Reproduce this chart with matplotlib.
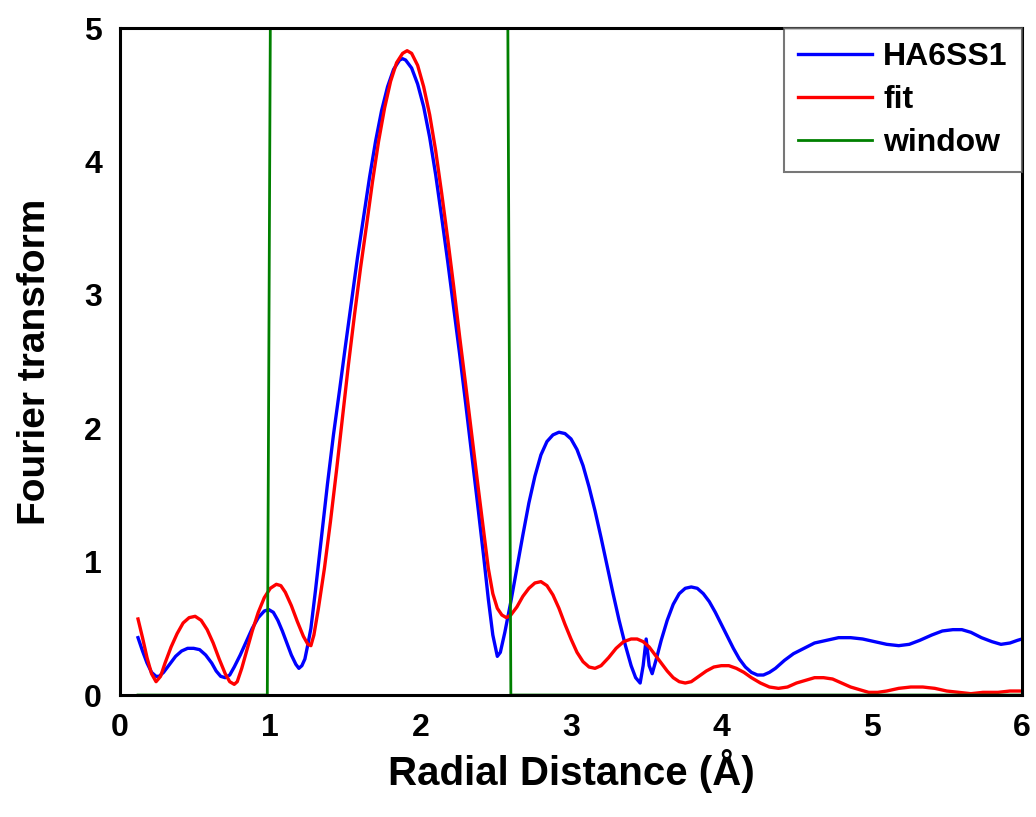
import matplotlib
matplotlib.use("Agg")
import matplotlib.pyplot as plt

# data (HA6SS1 data curve)
r_data = [0.12, 0.15, 0.18, 0.21, 0.24, 0.26, 0.29, 0.33, 0.37, 0.41, 0.45, 0.49, 0.53,
          0.57, 0.61, 0.64, 0.67, 0.70, 0.73, 0.76, 0.80, 0.84, 0.88, 0.92, 0.96, 0.99,
          1.02, 1.05, 1.08, 1.11, 1.14, 1.17, 1.19, 1.21, 1.23, 1.25, 1.27, 1.30, 1.34,
          1.38, 1.42, 1.46, 1.50, 1.54, 1.58, 1.62, 1.66, 1.70, 1.74, 1.78, 1.82, 1.86,
          1.88, 1.90, 1.94, 1.98, 2.02, 2.06, 2.10, 2.14, 2.18, 2.22, 2.26, 2.30, 2.34,
          2.38, 2.42, 2.45, 2.48, 2.51, 2.53, 2.56, 2.60, 2.64, 2.68, 2.72, 2.76, 2.80,
          2.84, 2.88, 2.92, 2.96, 3.00, 3.04, 3.08, 3.12, 3.16, 3.20, 3.24, 3.28, 3.32,
          3.36, 3.40, 3.43, 3.46, 3.48, 3.50, 3.52, 3.54, 3.57, 3.60, 3.64, 3.68, 3.72,
          3.76, 3.80, 3.84, 3.88, 3.92, 3.96, 4.00, 4.04, 4.08, 4.12, 4.16, 4.20, 4.24,
          4.28, 4.32, 4.36, 4.42, 4.48, 4.55, 4.62, 4.70, 4.78, 4.86, 4.94, 5.02, 5.10,
          5.18, 5.25, 5.32, 5.40, 5.47, 5.54, 5.60, 5.66, 5.73, 5.80, 5.86, 5.92, 5.97,
          6.00]
ft_data = [0.43, 0.33, 0.24, 0.17, 0.14, 0.14, 0.17, 0.23, 0.29, 0.33, 0.35, 0.35, 0.34,
           0.30, 0.24, 0.18, 0.14, 0.13, 0.15, 0.21, 0.30, 0.40, 0.50, 0.58, 0.63, 0.64,
           0.62, 0.56, 0.48, 0.39, 0.30, 0.23, 0.20, 0.22, 0.27, 0.38, 0.50, 0.78, 1.18,
           1.58, 1.95, 2.28, 2.62, 2.95, 3.28, 3.58, 3.88, 4.15, 4.38, 4.56, 4.69, 4.76,
           4.77, 4.76, 4.70, 4.58, 4.41, 4.18, 3.90, 3.58, 3.25, 2.90, 2.55, 2.18, 1.80,
           1.42, 1.03, 0.72, 0.45, 0.29, 0.32, 0.47, 0.70, 0.95, 1.20, 1.44, 1.64, 1.80,
           1.90, 1.95, 1.97, 1.96, 1.92, 1.84, 1.72, 1.56, 1.38, 1.18, 0.97, 0.76, 0.56,
           0.38, 0.22, 0.13, 0.09, 0.22, 0.42, 0.22, 0.16, 0.28, 0.41, 0.56, 0.68, 0.76,
           0.80, 0.81, 0.80, 0.76, 0.70, 0.62, 0.53, 0.44, 0.35, 0.27, 0.21, 0.17, 0.15,
           0.15, 0.17, 0.20, 0.26, 0.31, 0.35, 0.39, 0.41, 0.43, 0.43, 0.42, 0.40, 0.38,
           0.37, 0.38, 0.41, 0.45, 0.48, 0.49, 0.49, 0.47, 0.43, 0.40, 0.38, 0.39, 0.41,
           0.42]

# fit curve
r_fit = [0.12, 0.15, 0.18, 0.21, 0.24, 0.27, 0.30, 0.34, 0.38, 0.42, 0.46, 0.50, 0.54,
         0.58, 0.62, 0.66, 0.70, 0.73, 0.76, 0.78, 0.81, 0.84, 0.88, 0.92, 0.96, 1.00,
         1.04, 1.07, 1.10, 1.14, 1.18, 1.22, 1.25, 1.27, 1.29, 1.32, 1.36, 1.40, 1.44,
         1.48, 1.52, 1.56, 1.60, 1.64, 1.68, 1.72, 1.76, 1.80, 1.84, 1.88, 1.91, 1.94,
         1.98, 2.02, 2.06, 2.10, 2.14, 2.18, 2.22, 2.26, 2.30, 2.34, 2.38, 2.42, 2.45,
         2.48, 2.51, 2.54, 2.57, 2.60, 2.64, 2.68, 2.72, 2.76, 2.80, 2.84, 2.88, 2.92,
         2.96, 3.00, 3.04, 3.08, 3.12, 3.16, 3.20, 3.25, 3.30, 3.35, 3.40, 3.44, 3.48,
         3.52, 3.56, 3.60, 3.64, 3.68, 3.72, 3.76, 3.80, 3.85, 3.90, 3.95, 4.00, 4.05,
         4.10, 4.15, 4.20, 4.26, 4.32, 4.38, 4.44, 4.50, 4.56, 4.62, 4.68, 4.74, 4.80,
         4.86, 4.92, 4.98, 5.04, 5.10, 5.18, 5.26, 5.34, 5.42, 5.50, 5.58, 5.66, 5.74,
         5.84, 5.92, 6.00]
ft_fit = [0.57, 0.43, 0.28, 0.16, 0.10, 0.14, 0.24, 0.36, 0.46, 0.54, 0.58, 0.59, 0.56,
          0.49, 0.39, 0.27, 0.16, 0.10, 0.08, 0.10, 0.20, 0.32, 0.48, 0.62, 0.73, 0.80,
          0.83, 0.82, 0.77, 0.67, 0.55, 0.44, 0.38, 0.37, 0.45, 0.65, 0.95, 1.30, 1.68,
          2.08, 2.48, 2.85, 3.20, 3.52, 3.85, 4.15, 4.40, 4.60, 4.74, 4.81, 4.83, 4.81,
          4.72, 4.56, 4.35, 4.08, 3.76, 3.42, 3.06, 2.68, 2.32, 1.95, 1.58, 1.22, 0.95,
          0.76, 0.65, 0.60, 0.58, 0.60, 0.66, 0.74, 0.80, 0.84, 0.85, 0.82, 0.75, 0.65,
          0.53, 0.42, 0.32, 0.25, 0.21, 0.20, 0.22, 0.28, 0.35, 0.40, 0.42, 0.42, 0.40,
          0.36, 0.30, 0.24, 0.18, 0.13, 0.10, 0.09, 0.10, 0.14, 0.18, 0.21, 0.22, 0.22,
          0.20, 0.17, 0.13, 0.09, 0.06, 0.05, 0.06, 0.09, 0.11, 0.13, 0.13, 0.12, 0.09,
          0.06, 0.04, 0.02, 0.02, 0.03, 0.05, 0.06, 0.06, 0.05, 0.03, 0.02, 0.01, 0.02,
          0.02, 0.03, 0.03]

# window function
r_window = [0.12, 0.98, 1.00, 2.58, 2.60, 6.00]
window = [0, 0, 5, 5, 0, 0]

plt.rcParams['font.family'] = ['Liberation Sans', 'DejaVu Sans']
plt.rcParams['font.weight'] = 'bold'

fig = plt.figure(figsize=(10.36, 8.17), dpi=100)
ax = fig.add_axes([0.1158, 0.1493, 0.8707, 0.8164])

ax.plot(r_data, ft_data, color='#0000ff', lw=2.4, label='HA6SS1')
ax.plot(r_fit, ft_fit, color='#ff0000', lw=2.4, label='fit')
ax.plot(r_window, window, color='#008000', lw=2.0, label='window')

ax.set_xlim(0, 6)
ax.set_ylim(0, 5)
ax.set_xticks(range(0, 7))
ax.set_yticks(range(0, 6))
ax.tick_params(length=0, labelsize=23, pad=13)
for lab in ax.get_xticklabels() + ax.get_yticklabels():
    lab.set_fontweight('bold')
for sp in ax.spines.values():
    sp.set_linewidth(2.2)

ax.set_xlabel('Radial Distance (Å)', fontsize=29, fontweight='bold', labelpad=4)
ax.set_ylabel('Fourier transform', fontsize=28, fontweight='bold', labelpad=22)

leg = ax.legend(loc='upper right', borderaxespad=0.0, fontsize=23, fancybox=False,
                edgecolor='#555555', handlelength=2.3, handletextpad=0.35,
                labelspacing=0.4, borderpad=0.45)
leg.get_frame().set_linewidth(1.5)
for t in leg.get_texts():
    t.set_fontweight('bold')

fig.savefig('out.png', dpi=100)
